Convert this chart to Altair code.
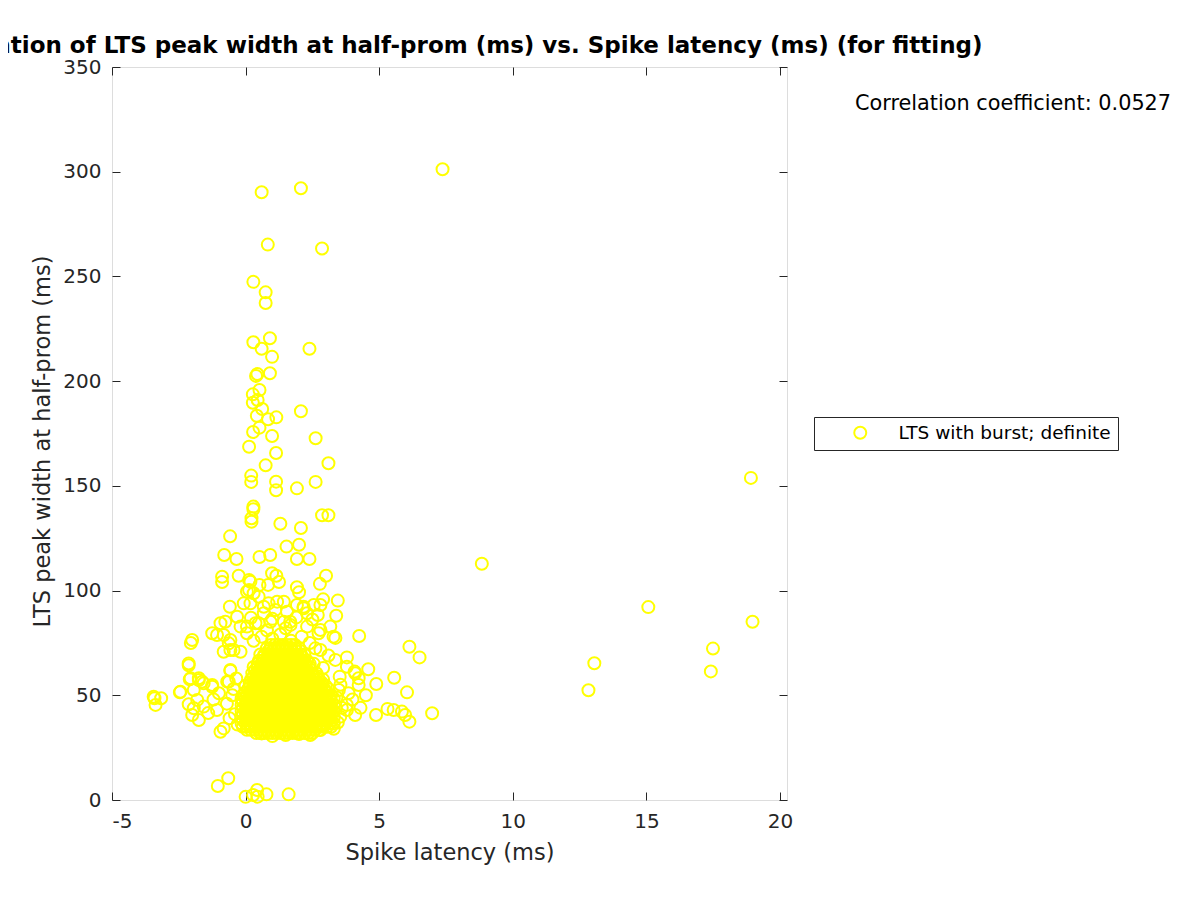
import altair as alt
import pandas as pd

# ---- data ----
# sparse points (latency ms, LTS peak width ms)
sparse_latency = [
    7.37, 0.60, 2.07, 0.83, 2.86, 0.29, 0.75, 0.75,
    0.29, 0.91, 0.60, 2.39, 0.99, 0.44, 0.39, 0.91, 0.52, 0.27, 0.45, 0.27, 0.62, 2.07, 0.42, 0.84, 1.15,
    0.52, 0.28, 0.99, 2.62, 0.13, 1.14, 3.10, 0.75, 0.21, 0.21, 1.14, 1.14, 1.92, 2.62, 18.91,
    0.29, 0.29, 0.22, 0.22, 1.30, 2.07, 2.86, 3.10, -0.58, 1.53, 2.00, -0.80, -0.34, 0.52, 0.92, 1.92, 2.39,
    8.84, -0.26, -0.88, -0.88, 0.13, 0.99, 1.15, 1.25, 3.01, 2.78, 1.92, 2.00, 0.13, 0.52, 0.84, 0.18,
    0.05, 0.30, -0.07, -0.59, 0.18, 0.49, 0.86, 1.18, 1.43, 1.92, 2.17, 2.55, 2.90, 3.45, 3.39, 2.30,
    1.55, 1.11, 0.68, 0.68, 15.07, 2.80,
    -0.32, -0.76, -0.94, -1.07, -1.25, -0.82, -0.57, -2.00, -2.05, -0.19, 0.05, 0.49, 0.93, 1.43, 1.68,
    2.30, 2.80, 3.17, 3.29, 3.36, 4.25, 2.73, 0.05, 0.37, 1.67, 2.17, 18.97, 17.49, 0.20, 1.00, 1.90,
    2.50, 2.70, 0.30, 0.60, 1.00, 1.30, 1.70, 2.10, 2.40, 0.80, 1.50,
    -0.63, -0.82, -0.45, -0.19, -0.57, 2.61, 2.80, 3.36, 3.79, 4.59, 4.08, 4.10, -0.57, -0.57, -2.13,
    -2.13, 6.13, 6.51, 13.05, 17.41, 3.79, 2.90, 3.10,
    -3.41, -3.16, -3.37, -3.44, -2.46, -2.44, -2.09, -2.06, -2.13, -2.00, -1.75, -1.75, -1.75, -1.57,
    -1.63, -1.25, -1.25, -1.94, -1.81, -1.94, -1.57, -1.07, -0.94, -0.82, -0.63, -0.69, -0.50, -0.70,
    -0.40, -1.20, -1.00, -0.30, -0.45, -0.35, -1.40, -0.60,
    4.23, 4.89, 5.56, 6.04, 5.31, 5.54, 5.85, 5.97, 6.13, 6.98, 4.88, 4.10, 3.52, 3.49, 3.79, 4.23,
    3.85, 3.79, 3.54, 2.42, 2.80, 12.83, 3.60, 3.40, 3.55, 3.45, 4.00, 4.30, 4.50, 3.30, 1.00, 1.50,
    2.00, 0.60,
    -1.04, -0.65, 0.00, 0.28, 0.43, 0.45, 0.78, 1.61,
]
sparse_width = [
    301.2, 290.2, 292.1, 265.2, 263.3, 247.4, 242.4, 237.3,
    218.6, 220.5, 215.5, 215.5, 211.6, 203.4, 202.5, 203.8, 195.8, 193.7, 191.0, 189.7, 186.7, 185.6, 183.5, 181.8, 182.7,
    177.8, 175.7, 173.8, 172.7, 168.7, 165.7, 160.8, 159.8, 154.9, 151.9, 152.0, 147.9, 148.8, 151.9, 153.8,
    140.1, 138.8, 134.5, 132.9, 131.9, 129.9, 136.0, 136.0, 125.9, 121.0, 121.9, 117.0, 115.1, 116.0, 117.0, 115.1, 115.1,
    112.8, 107.1, 106.6, 104.1, 105.1, 108.3, 107.1, 104.1, 107.1, 103.2, 101.6, 99.2, 100.3, 102.7, 102.7, 104.2,
    99.5, 98.7, 93.9, 92.3, 93.9, 97.1, 93.9, 94.7, 94.7, 93.1, 92.3, 93.1, 95.8, 95.2, 88.0, 89.2,
    89.9, 90.7, 92.3, 89.2, 92.1, 93.1,
    87.5, 85.1, 84.4, 78.8, 79.6, 78.8, 76.4, 76.4, 75.0, 82.8, 79.6, 84.4, 85.1, 85.1, 83.6,
    82.8, 81.2, 82.8, 78.0, 77.4, 78.3, 79.6, 82.8, 84.4, 85.1, 91.5, 85.1, 72.3, 87.0, 86.5, 87.2,
    86.2, 88.3, 76.0, 78.0, 77.0, 79.0, 76.0, 78.0, 75.0, 81.0, 82.0,
    74.8, 70.8, 71.6, 70.8, 71.6, 72.4, 71.6, 66.9, 68.1, 62.4, 61.3, 60.5, 62.1, 61.7, 64.3,
    65.2, 73.2, 68.1, 65.3, 61.4, 63.6, 63.0, 69.0,
    48.6, 48.6, 45.4, 49.3, 51.4, 51.7, 57.6, 58.1, 45.7, 40.6, 38.2, 57.3, 58.1, 55.7,
    56.5, 54.1, 54.9, 52.5, 47.8, 43.8, 44.6, 43.0, 32.6, 34.2, 56.5, 56.5, 50.0, 46.0,
    41.0, 48.0, 51.0, 36.0, 53.0, 58.0, 41.5, 39.0,
    58.1, 55.4, 58.4, 51.4, 43.5, 43.0, 42.2, 40.6, 37.4, 41.4, 40.6, 40.6, 58.9, 52.5, 43.0, 54.9,
    51.0, 45.4, 39.8, 31.0, 33.4, 52.4, 44.0, 49.0, 55.0, 37.0, 48.0, 44.0, 50.0, 34.0, 30.5, 31.0,
    31.5, 31.8,
    6.7, 10.4, 1.5, 2.4, 4.8, 1.6, 2.7, 2.7,
]

# dense core of the cloud: two alternating latency rows used for the widest part
core_row_a = [-0.15, 0.00, 0.15, 0.30, 0.45, 0.60, 0.75, 0.90, 1.05, 1.20, 1.35, 1.50, 1.65,
              1.80, 1.95, 2.10, 2.25, 2.40, 2.55, 2.70, 2.85, 3.00, 3.15, 3.30]
core_row_b = [-0.10, 0.05, 0.20, 0.35, 0.50, 0.65, 0.80, 0.95, 1.10, 1.25, 1.40, 1.55, 1.70,
              1.85, 2.00, 2.15, 2.30, 2.45, 2.60, 2.75, 2.90, 3.05, 3.20]
core_row_c = [0.00, 0.15, 0.30, 0.45, 0.60, 0.75, 0.90, 1.05, 1.20, 1.35, 1.50, 1.65, 1.80,
              1.95, 2.10, 2.25, 2.40, 2.55, 2.70, 2.85, 3.00]

# peak width of each core row -> latencies in that row
core_rows = {
    32.0: [0.40, 0.55, 0.70, 0.85, 1.00, 1.15, 1.30, 1.45, 1.60, 1.75, 1.90, 2.05, 2.20, 2.35, 2.50],
    33.5: [0.05, 0.20, 0.35, 0.50, 0.65, 0.80, 0.95, 1.10, 1.25, 1.40, 1.55, 1.70, 1.85, 2.00,
           2.15, 2.30, 2.45, 2.60, 2.75],
    35.0: core_row_b,
    36.5: core_row_a,
    38.0: core_row_b,
    39.5: core_row_a,
    41.0: core_row_b,
    42.5: core_row_a,
    44.0: core_row_b,
    45.5: core_row_a,
    47.0: core_row_b,
    48.5: core_row_a,
    50.0: core_row_b,
    51.5: core_row_c,
    53.0: [0.10, 0.25, 0.40, 0.55, 0.70, 0.85, 1.00, 1.15, 1.30, 1.45, 1.60, 1.75, 1.90, 2.05,
           2.20, 2.35, 2.50, 2.65, 2.80, 2.95, 3.10],
    54.5: core_row_c,
    56.0: [0.15, 0.30, 0.45, 0.60, 0.75, 0.90, 1.05, 1.20, 1.35, 1.50, 1.65, 1.80, 1.95, 2.10,
           2.25, 2.40, 2.55, 2.70, 2.85],
    57.5: [0.20, 0.35, 0.50, 0.65, 0.80, 0.95, 1.10, 1.25, 1.40, 1.55, 1.70, 1.85, 2.00, 2.15,
           2.30, 2.45, 2.60, 2.75, 2.90],
    59.0: [0.30, 0.45, 0.60, 0.75, 0.90, 1.05, 1.20, 1.35, 1.50, 1.65, 1.80, 1.95, 2.10, 2.25,
           2.40, 2.55, 2.70],
    60.5: [0.25, 0.40, 0.55, 0.70, 0.85, 1.00, 1.15, 1.30, 1.45, 1.60, 1.75, 1.90, 2.05, 2.20,
           2.35, 2.50, 2.65],
    62.0: [0.35, 0.50, 0.65, 0.80, 0.95, 1.10, 1.25, 1.40, 1.55, 1.70, 1.85, 2.00, 2.15, 2.30, 2.45],
    63.5: [0.30, 0.45, 0.60, 0.75, 0.90, 1.05, 1.20, 1.35, 1.50, 1.65, 1.80, 1.95, 2.10, 2.25, 2.40],
    65.0: [0.45, 0.60, 0.75, 0.90, 1.05, 1.20, 1.35, 1.50, 1.65, 1.80, 1.95, 2.10, 2.25, 2.40, 2.55],
    66.5: [0.50, 0.65, 0.80, 0.95, 1.10, 1.25, 1.40, 1.55, 1.70, 1.85, 2.00, 2.15, 2.30],
    68.0: [0.65, 0.80, 0.95, 1.10, 1.25, 1.40, 1.55, 1.70, 1.85, 2.00, 2.15],
    69.5: [0.55, 0.70, 0.85, 1.00, 1.15, 1.30, 1.45, 1.60, 1.75, 1.90, 2.05, 2.20],
    71.0: [0.85, 1.00, 1.15, 1.30, 1.45, 1.60, 1.75, 1.90, 2.05],
    72.5: [0.80, 0.95, 1.10, 1.25, 1.40, 1.55, 1.70, 1.85, 2.00],
    74.0: [0.95, 1.10, 1.25, 1.40, 1.55, 1.70, 1.85],
}

series_name = "LTS with burst; definite"
corr_label = "Correlation coefficient: 0.0527"
title_text = "Correlation of LTS peak width at half-prom (ms) vs. Spike latency (ms) (for fitting)"
x_ticks = [-5, 0, 5, 10, 15, 20]
y_ticks = [0, 50, 100, 150, 200, 250, 300, 350]

core_latency = [x for w, xs in core_rows.items() for x in xs]
core_width = [w for w, xs in core_rows.items() for x in xs]

df = pd.DataFrame({
    "latency": sparse_latency + core_latency,
    "width": sparse_width + core_width,
})
df["group"] = series_name

W, H = 675, 733
FONT = "DejaVu Sans"
INK = "#262626"
YELLOW = "#FFFF00"

xscale = alt.Scale(domain=[-5, 20.26], nice=False, zero=False)
yscale = alt.Scale(domain=[0, 350], nice=False, zero=False)

base_axis = dict(tickSize=8, offset=-8, domain=False, grid=False, tickColor=INK,
                 labelColor=INK, labelFont=FONT, labelFontSize=20, titleFont=FONT,
                 titleFontSize=22.5, titleColor=INK, titleFontWeight="normal",
                 labelExpr="datum.value + ''")

points = alt.Chart(df).mark_point(shape="circle", filled=False, size=144, strokeWidth=2,
                                  opacity=1).encode(
    x=alt.X("latency:Q", scale=xscale,
            axis=alt.Axis(orient="bottom", values=x_ticks, labelPadding=11, titlePadding=10,
                          title="Spike latency (ms)", **base_axis)),
    y=alt.Y("width:Q", scale=yscale,
            axis=alt.Axis(orient="left", values=y_ticks, labelPadding=11, titlePadding=8,
                          titleY=374, title="LTS peak width at half-prom (ms)", **base_axis)),
    color=alt.Color("group:N", scale=alt.Scale(range=[YELLOW]),
                    legend=alt.Legend(title=None, orient="none", legendX=702, legendY=350,
                                      strokeColor=INK, fillColor="white", padding=6.5,
                                      symbolOffset=30.5, labelOffset=29, labelFont=FONT,
                                      labelFontSize=18.5, labelColor="black", labelLimit=500,
                                      symbolType="circle", symbolSize=144,
                                      symbolStrokeWidth=2)),
)

frame = alt.Chart(df).mark_point(opacity=0).encode(
    x=alt.X("latency:Q", scale=xscale,
            axis=alt.Axis(orient="top", values=x_ticks, labels=False, title=None, **base_axis)),
    y=alt.Y("width:Q", scale=yscale,
            axis=alt.Axis(orient="right", values=y_ticks, labels=False, title=None, **base_axis)),
)

corr = alt.Chart(pd.DataFrame({"t": [corr_label]})).mark_text(
    align="left", baseline="middle", font=FONT, fontSize=20.8, color="black"
).encode(text="t:N", x=alt.value(743), y=alt.value(37))

chart = alt.layer(points, frame, corr).resolve_axis(x="independent", y="independent").properties(
    width=W, height=H,
    title=alt.TitleParams(title_text, font=FONT, fontSize=23, fontWeight="bold", color="black",
                          anchor="middle", offset=-1),
    autosize=alt.AutoSizeParams(type="none"),
    padding={"left": 104, "top": 59, "right": 400, "bottom": 100},
).configure_view(stroke=INK, strokeWidth=1).configure(background="white")

chart.save("out.html", embed_options={"renderer": "svg", "actions": False})
